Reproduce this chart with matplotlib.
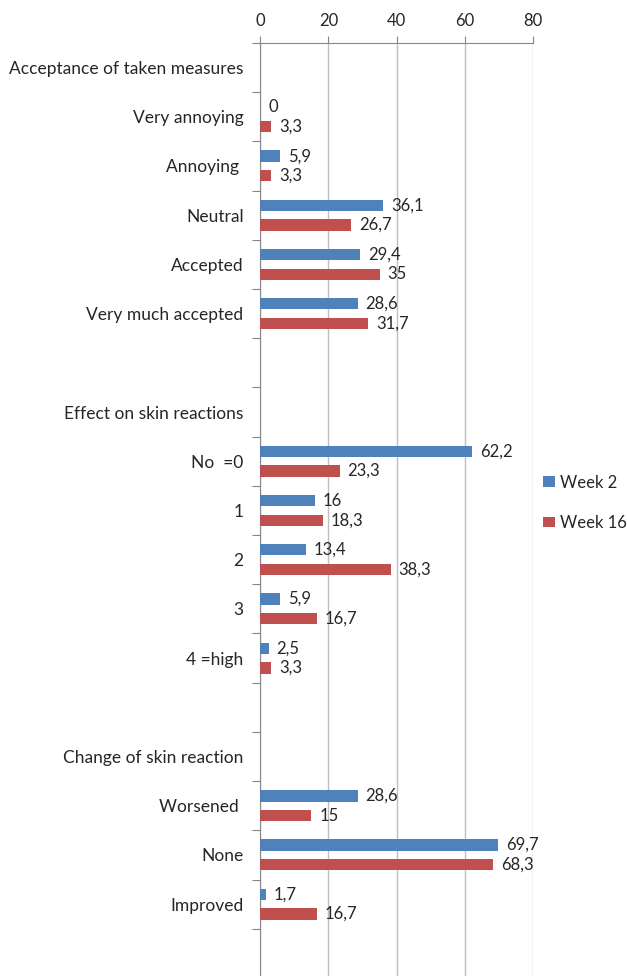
import numpy as np
import matplotlib
matplotlib.use('Agg')
import matplotlib.pyplot as plt
from matplotlib.patches import Patch

# categories top to bottom (empty strings are spacer rows)
categories = ["Acceptance of taken measures", "Very annoying", "Annoying ", "Neutral",
              "Accepted", "Very much accepted", "", "Effect on skin reactions",
              "No  =0", "1", "2", "3", "4 =high", "", "Change of skin reaction",
              "Worsened ", "None", "Improved", ""]
week2 = [None, 0, 5.9, 36.1, 29.4, 28.6, None, None, 62.2, 16, 13.4, 5.9, 2.5,
         None, None, 28.6, 69.7, 1.7, None]
week16 = [None, 3.3, 3.3, 26.7, 35, 31.7, None, None, 23.3, 18.3, 38.3, 16.7, 3.3,
          None, None, 15, 68.3, 16.7, None]
x_ticks = [0, 20, 40, 60, 80]

BLUE = '#4F81BD'
RED = '#C0504D'
TXT = '#262626'
FS = 12
plt.rcParams['font.family'] = ['Lato', 'DejaVu Sans']

fig = plt.figure(figsize=(6.27, 9.76), dpi=100)
ax = fig.add_axes([0.415, -0.002, 0.435, 0.958])

n = len(categories)
pos = np.arange(n)
bh = 0.23
off = 0.2

def fmt(v):
    return f"{v:g}".replace('.', ',')

for vals, color, dy in [(week2, BLUE, -off), (week16, RED, off)]:
    for i, v in enumerate(vals):
        if v is None:
            continue
        ax.barh(pos[i] + dy, v, height=bh, color=color, edgecolor='none', zorder=3)
        ax.text(v + 2.3, pos[i] + dy, fmt(v), va='center', ha='left',
                fontsize=FS, color=TXT, zorder=4)

ax.set_xlim(0, 80)
ax.set_ylim(n - 0.5, -0.5)
ax.xaxis.tick_top()
ax.set_xticks(x_ticks)
ax.tick_params(axis='x', direction='out', length=5, color='#868686', labelsize=FS,
               labelcolor=TXT, pad=5)
ax.grid(axis='x', color='#BFBFBF', linewidth=1, zorder=0)

# category boundaries carry the tick marks, centers carry the labels
ax.set_yticks(np.arange(n + 1) - 0.5)
ax.set_yticklabels([])
ax.set_yticks(pos, minor=True)
ax.set_yticklabels(categories, minor=True)
ax.tick_params(axis='y', which='major', direction='out', length=6, color='#868686')
ax.tick_params(axis='y', which='minor', length=0, labelsize=12.5, labelcolor=TXT, pad=12)

for s in ['right', 'bottom']:
    ax.spines[s].set_visible(False)
ax.spines['left'].set_color('#868686')
ax.spines['top'].set_color('#868686')

handles = [Patch(facecolor=BLUE, edgecolor='none', label='Week 2'),
           Patch(facecolor=RED, edgecolor='none', label='Week 16')]
fig.legend(handles=handles, loc='center left', bbox_to_anchor=(0.866, 0.485),
           frameon=False, fontsize=FS, handlelength=0.75, handleheight=0.6,
           handletextpad=0.3, labelspacing=1.45, borderpad=0, borderaxespad=0,
           labelcolor=TXT)

fig.savefig('out.png', dpi=100, facecolor='white')
